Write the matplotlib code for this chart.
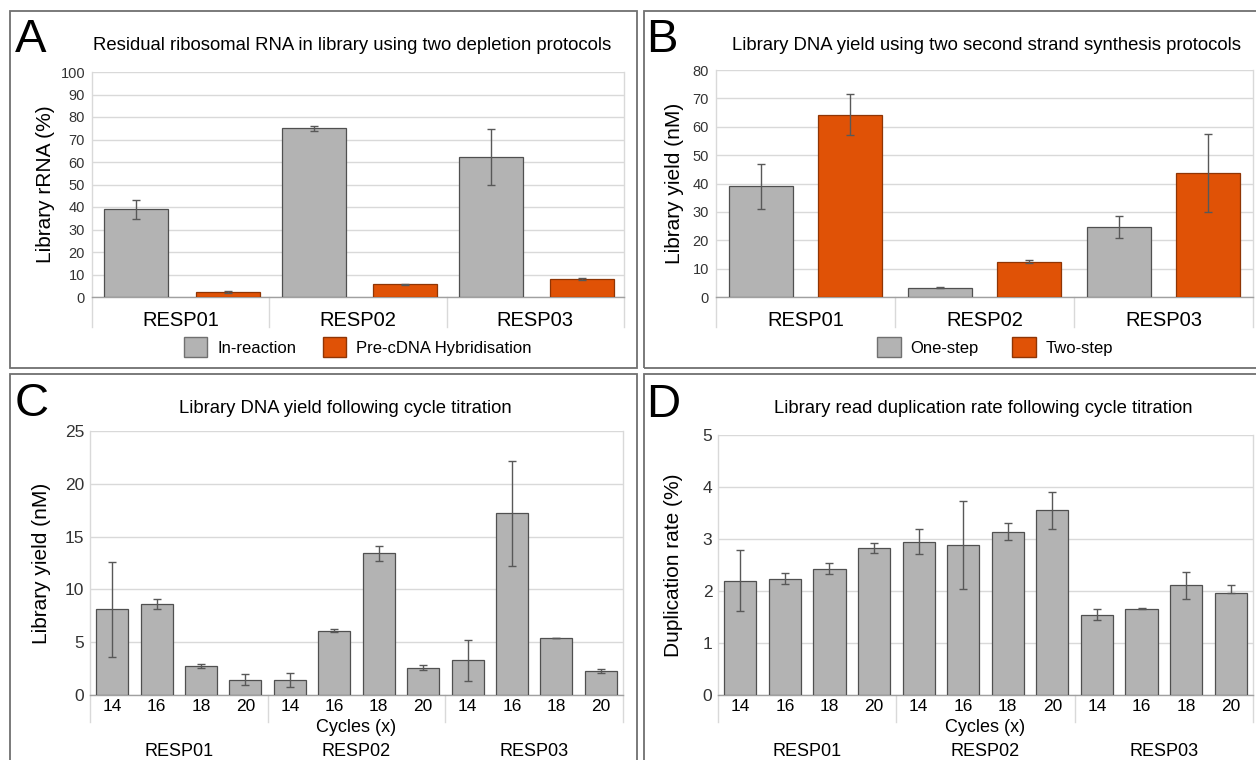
import matplotlib
matplotlib.use("Agg")
import matplotlib.pyplot as plt
from matplotlib.patches import Rectangle, Patch
import matplotlib.transforms as mtransforms
import numpy as np

plt.rcParams['font.family'] = ['Liberation Sans', 'DejaVu Sans']

# ---------------- data ----------------
resp = ["RESP01", "RESP02", "RESP03"]
cycles = ["14", "16", "18", "20"]

# Panel A: residual rRNA (%)
a_inreaction = [39.0, 75.0, 62.2]
a_inreaction_err = [4.3, 1.0, 12.3]
a_precdna = [2.2, 5.7, 8.0]
a_precdna_err = [0.4, 0.2, 0.5]

# Panel B: library yield (nM)
b_onestep = [39.0, 3.2, 24.6]
b_onestep_err = [8.0, 0.2, 3.8]
b_twostep = [64.3, 12.5, 43.8]
b_twostep_err = [7.2, 0.4, 13.8]

# Panel C: library yield (nM) per cycle count
c_yield = [8.1, 8.6, 2.75, 1.45, 1.45, 6.1, 13.4, 2.6, 3.3, 17.2, 5.4, 2.3]
c_err = [4.5, 0.45, 0.15, 0.55, 0.65, 0.12, 0.7, 0.2, 1.95, 4.95, 0.03, 0.2]

# Panel D: duplication rate (%) per cycle count
d_dup = [2.2, 2.23, 2.42, 2.82, 2.95, 2.88, 3.14, 3.55, 1.54, 1.66, 2.11, 1.97]
d_err_low = [0.58, 0.09, 0.09, 0.09, 0.23, 0.84, 0.15, 0.35, 0.09, 0.01, 0.26, 0.0]
d_err_high = [0.58, 0.11, 0.11, 0.11, 0.24, 0.86, 0.16, 0.35, 0.11, 0.01, 0.26, 0.15]

# ---------------- style ----------------
W, H = 1256, 760
GRAY = '#b3b3b3'
GRAY_EDGE = '#505050'
ORANGE = '#e05206'
ORANGE_EDGE = '#8f3505'
ERR = '#585858'
GRID = '#d9d9d9'
FRAME = '#707070'

fig = plt.figure(figsize=(W / 100, H / 100), dpi=100)
fig.patch.set_facecolor('white')


def rect(l, t, r, b):
    return [l / W, 1 - b / H, (r - l) / W, (b - t) / H]


def frame(l, t, r, b):
    fig.add_artist(Rectangle((l / W, 1 - b / H), (r - l) / W, (b - t) / H,
                             transform=fig.transFigure, fill=False,
                             ec=FRAME, lw=1.3))


def figtext(x, y, s, **kw):
    fig.text(x / W, 1 - y / H, s, **kw)


def style_axes(ax, ymax, ystep, sep_x, sep_depth):
    ax.set_ylim(0, ymax)
    ax.set_yticks(np.arange(0, ymax + ystep / 2, ystep))
    ax.yaxis.grid(True, color=GRID, lw=1.0)
    ax.set_axisbelow(True)
    ax.spines['top'].set_visible(False)
    for s in ['left', 'right']:
        ax.spines[s].set_color(GRID)
        ax.spines[s].set_linewidth(1.0)
    ax.spines['bottom'].set_color('#a0a0a0')
    ax.spines['bottom'].set_linewidth(1.0)
    ax.tick_params(axis='y', length=0, pad=5, labelsize=10.5, labelcolor='#333333')
    ax.tick_params(axis='x', length=0)
    trans = mtransforms.blended_transform_factory(ax.transData, ax.transAxes)
    for x in sep_x:
        ax.plot([x, x], [0, -sep_depth], transform=trans, color=GRID,
                lw=1.0, clip_on=False)


# ---------------- panel frames ----------------
frame(10, 11, 637, 368)
frame(644, 11, 1262, 368)
frame(10, 374, 637, 770)
frame(644, 374, 1262, 770)

TITLE_FS = 13.3
LETTER_FS = 34

# ---------------- Panel A ----------------
axA = fig.add_axes(rect(92, 72, 624, 297))
xa = np.arange(len(resp))
ek = dict(ecolor=ERR, elinewidth=1.0, capsize=3, capthick=1.0)
axA.bar(xa - 0.25, a_inreaction, 0.36, color=GRAY, edgecolor=GRAY_EDGE, lw=0.9,
        yerr=a_inreaction_err, error_kw=ek, zorder=3)
axA.bar(xa + 0.265, a_precdna, 0.36, color=ORANGE, edgecolor=ORANGE_EDGE, lw=0.9,
        yerr=a_precdna_err, error_kw=ek, zorder=3)
axA.set_xlim(-0.5, 2.5)
style_axes(axA, 100, 10, [-0.5, 0.5, 1.5, 2.5], 30 / 225)
axA.set_xticks(xa)
axA.set_xticklabels(resp, fontsize=14.5)
axA.tick_params(axis='x', pad=10)
axA.set_ylabel('Library rRNA (%)', fontsize=15, labelpad=4)
axA.legend(handles=[Patch(fc=GRAY, ec='#707070', label='In-reaction'),
                    Patch(fc=ORANGE, ec='#8f3505', label='Pre-cDNA Hybridisation')],
           loc='center', bbox_to_anchor=(0.5, -50 / 225), ncol=2, frameon=False,
           fontsize=12, handlelength=1.4, handleheight=1.4, columnspacing=1.6,
           handletextpad=0.6)
figtext(352, 45, 'Residual ribosomal RNA in library using two depletion protocols',
        ha='center', va='center', fontsize=TITLE_FS)
figtext(15, 40, 'A', ha='left', va='center', fontsize=LETTER_FS)

# ---------------- Panel B ----------------
axB = fig.add_axes(rect(716, 70, 1253, 297))
axB.bar(xa - 0.25, b_onestep, 0.36, color=GRAY, edgecolor=GRAY_EDGE, lw=0.9,
        yerr=b_onestep_err, error_kw=ek, zorder=3)
axB.bar(xa + 0.25, b_twostep, 0.36, color=ORANGE, edgecolor=ORANGE_EDGE, lw=0.9,
        yerr=b_twostep_err, error_kw=ek, zorder=3)
axB.set_xlim(-0.5, 2.5)
style_axes(axB, 80, 10, [-0.5, 0.5, 1.5, 2.5], 30 / 227)
axB.set_xticks(xa)
axB.set_xticklabels(resp, fontsize=14.5)
axB.tick_params(axis='x', pad=10)
axB.set_ylabel('Library yield (nM)', fontsize=15, labelpad=6)
axB.legend(handles=[Patch(fc=GRAY, ec='#707070', label='One-step'),
                    Patch(fc=ORANGE, ec='#8f3505', label='Two-step')],
           loc='center', bbox_to_anchor=(0.52, -50 / 227), ncol=2, frameon=False,
           fontsize=12, handlelength=1.4, handleheight=1.4, columnspacing=2.0,
           handletextpad=0.6)
figtext(987, 45, 'Library DNA yield using two second strand synthesis protocols',
        ha='center', va='center', fontsize=TITLE_FS)
figtext(646, 40, 'B', ha='left', va='center', fontsize=LETTER_FS)

# ---------------- Panels C & D ----------------
xc = np.arange(len(resp) * len(cycles))
cyc_labels = cycles * len(resp)
group_centers = [1.5, 5.5, 9.5]


def cycle_panel(ax, vals, err, ymax, ystep, ylabel, plot_h, ylabelpad):
    ax.bar(xc, vals, 0.72, color=GRAY, edgecolor=GRAY_EDGE, lw=0.9,
           yerr=err, error_kw=ek, zorder=3)
    ax.set_xlim(-0.5, 11.5)
    style_axes(ax, ymax, ystep, [-0.5, 3.5, 7.5, 11.5], 27 / plot_h)
    ax.tick_params(axis='y', labelsize=12.5, pad=4)
    ax.set_xticks(xc)
    ax.set_xticklabels(cyc_labels, fontsize=12.5)
    ax.tick_params(axis='x', pad=3)
    ax.set_ylabel(ylabel, fontsize=15, labelpad=ylabelpad)
    trans = mtransforms.blended_transform_factory(ax.transData, ax.transAxes)
    ax.text(5.5, -33 / plot_h, 'Cycles (x)', transform=trans, ha='center',
            va='center', fontsize=13)
    for gx, r in zip(group_centers, resp):
        ax.text(gx, -57 / plot_h, r, transform=trans, ha='center', va='center',
                fontsize=13)


axC = fig.add_axes(rect(90, 431, 623, 695))
cycle_panel(axC, c_yield, c_err, 25, 5, 'Library yield (nM)', 264, 10)
figtext(345, 409, 'Library DNA yield following cycle titration',
        ha='center', va='center', fontsize=TITLE_FS)
figtext(15, 404, 'C', ha='left', va='center', fontsize=LETTER_FS)

axD = fig.add_axes(rect(718, 435, 1253, 695))
cycle_panel(axD, d_dup, [d_err_low, d_err_high], 5, 1, 'Duplication rate (%)', 260, 14)
figtext(983, 409, 'Library read duplication rate following cycle titration',
        ha='center', va='center', fontsize=TITLE_FS)
figtext(646, 405, 'D', ha='left', va='center', fontsize=LETTER_FS)

fig.savefig('out.png', dpi=100)
